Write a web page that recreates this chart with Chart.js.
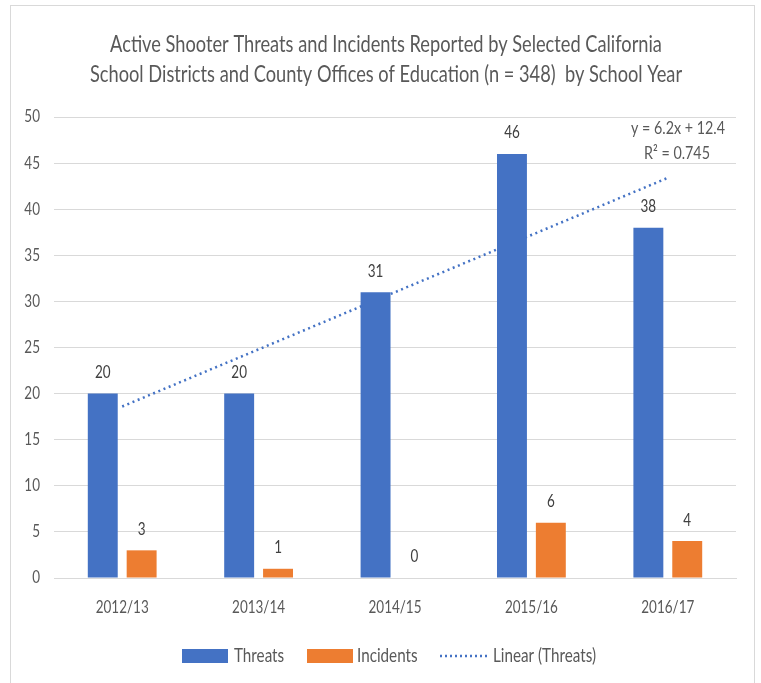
<!DOCTYPE html>
<html>
<head>
<meta charset="utf-8">
<script src="https://cdn.jsdelivr.net/npm/chart.js@4"></script>
<style>
  html, body { margin: 0; padding: 0; background: #fff; }
  #wrap { position: relative; width: 761px; height: 683px; overflow: hidden; }
  #frame { position: absolute; left: 10px; top: 5px; width: 745px; height: 700px; border: 1px solid #d9d9d9; box-sizing: border-box; }
  canvas { position: absolute; left: 0; top: 0; }
</style>
</head>
<body>
<div id="wrap">
  <div id="frame"></div>
  <canvas id="c" width="761" height="683"></canvas>
</div>
<script>
const categories = ["2012/13", "2013/14", "2014/15", "2015/16", "2016/17"];
const threats = [20, 20, 31, 46, 38];
const incidents = [3, 1, 0, 6, 4];
const trendThreats = [18.6, 24.8, 31.0, 37.2, 43.4];
const yTicks = [0, 5, 10, 15, 20, 25, 30, 35, 40, 45, 50];
const titleLines = [
  "Active Shooter Threats and Incidents Reported by Selected California",
  "School Districts and County Offices of Education (n = 348)  by School Year"
];
const equationLines = ["y = 6.2x + 12.4", "R\u00B2 = 0.745"];

const TXT = "#595959";
const BLUE = "#4472C4";
const ORANGE = "#ED7D31";
const FONT = "Lato, 'Liberation Sans', sans-serif";

// condensed text: fixed glyph height, horizontal squeeze to match the reference widths
const mctx = document.createElement("canvas").getContext("2d");
function widthAt(text, size) { mctx.font = size + "px " + FONT; return mctx.measureText(text).width; }
const TICK_PX = 17;
const SX = 53 / widthAt("2012/13", TICK_PX);
function sizeFor(text, targetW) { return targetW / (SX * widthAt(text, 1)); }
const TITLE_PX = sizeFor(titleLines[0], 552);
const EQ_PX = sizeFor(equationLines[0], 94);
const LEG_PX = sizeFor("Linear (Threats)", 103);

function drawTxt(ctx, text, x, y, size, align, color) {
  ctx.save();
  ctx.font = size + "px " + FONT;
  ctx.fillStyle = color;
  ctx.textAlign = align;
  ctx.textBaseline = "middle";
  ctx.translate(x, y);
  ctx.scale(SX, 1);
  ctx.fillText(text, 0, 0);
  ctx.restore();
}

const textLayer = {
  id: "textLayer",
  afterDraw(chart) {
    const ctx = chart.ctx;
    const cx = (chart.width) / 2;
    // title
    drawTxt(ctx, titleLines[0], 386, 45, TITLE_PX, "center", TXT);
    drawTxt(ctx, titleLines[1], 386, 75, TITLE_PX, "center", TXT);
    // axis ticks
    const xs = chart.scales.x, ys = chart.scales.y;
    chart.data.labels.forEach((lab, i) => {
      drawTxt(ctx, lab, xs.getPixelForValue(i), 608, TICK_PX, "center", TXT);
    });
    yTicks.forEach(v => {
      drawTxt(ctx, String(v), 40, ys.getPixelForValue(v), TICK_PX, "right", TXT);
    });
    // value labels
    [0, 1].forEach(di => {
      chart.getDatasetMeta(di).data.forEach((bar, i) => {
        drawTxt(ctx, String(chart.data.datasets[di].data[i]), bar.x, bar.y - 21, TICK_PX, "center", "#404040");
      });
    });
    // equation
    drawTxt(ctx, equationLines[0], 678, 128, EQ_PX, "center", TXT);
    drawTxt(ctx, equationLines[1], 677, 153, EQ_PX, "center", TXT);
    // legend
    const ds = chart.data.datasets;
    const y = 656;
    ctx.save();
    ctx.fillStyle = BLUE;
    ctx.fillRect(182, 649, 46, 14);
    ctx.fillStyle = ORANGE;
    ctx.fillRect(307, 649, 46, 14);
    ctx.strokeStyle = BLUE;
    ctx.lineWidth = 2.5;
    ctx.setLineDash([2, 3]);
    ctx.beginPath();
    ctx.moveTo(440, y);
    ctx.lineTo(487, y);
    ctx.stroke();
    ctx.restore();
    drawTxt(ctx, ds[0].label, 234, y, LEG_PX, "left", TXT);
    drawTxt(ctx, ds[1].label, 357, y, LEG_PX, "left", TXT);
    drawTxt(ctx, ds[2].label, 493, y, LEG_PX, "left", TXT);
  }
};

new Chart(document.getElementById("c"), {
  type: "bar",
  data: {
    labels: categories,
    datasets: [
      { label: "Threats", data: threats, backgroundColor: BLUE, order: 1,
        categoryPercentage: 0.57, barPercentage: 0.77 },
      { label: "Incidents", data: incidents, backgroundColor: ORANGE, order: 1,
        categoryPercentage: 0.57, barPercentage: 0.77 },
      { type: "line", label: "Linear (Threats)", data: trendThreats, order: 2,
        borderColor: BLUE, borderWidth: 2.5, borderDash: [2, 3.6],
        pointRadius: 0, fill: false, tension: 0 }
    ]
  },
  options: {
    responsive: false,
    animation: false,
    layout: { padding: { top: 117, left: 0, right: 25, bottom: 55 } },
    plugins: {
      legend: { display: false },
      tooltip: { enabled: false },
      title: { display: false }
    },
    scales: {
      x: {
        grid: { display: false, drawTicks: false },
        border: { display: true, color: "#d9d9d9" },
        ticks: { display: false },
        afterFit(s) { s.height = 50; }
      },
      y: {
        min: 0, max: 50,
        afterBuildTicks(s) { s.ticks = yTicks.map(v => ({ value: v })); },
        grid: { color: "#d9d9d9", drawTicks: false },
        border: { display: false },
        ticks: { display: false },
        afterFit(s) { s.width = 54; }
      }
    }
  },
  plugins: [textLayer]
});
</script>
</body>
</html>
